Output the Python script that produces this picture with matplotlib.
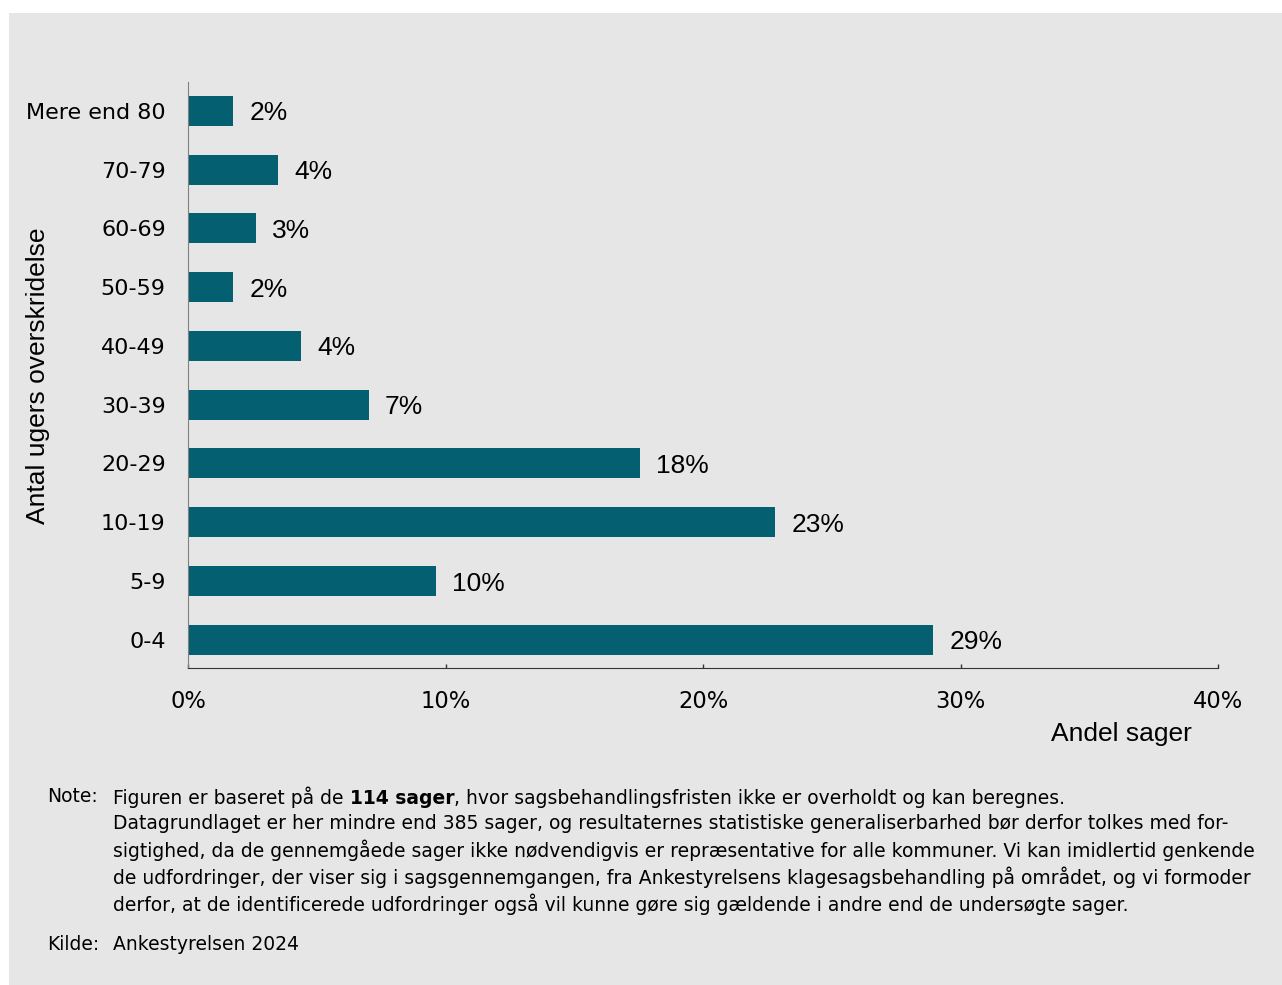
import matplotlib.pyplot as plt
from matplotlib.patches import Rectangle
from matplotlib.ticker import FuncFormatter

categories = ['0-4', '5-9', '10-19', '20-29', '30-39', '40-49', '50-59', '60-69', '70-79', 'Mere end 80']
counts = [33, 11, 26, 20, 8, 5, 2, 3, 4, 2]
total = 114
shares = [c / total * 100 for c in counts]
labels = ['29%', '10%', '23%', '18%', '7%', '4%', '2%', '3%', '4%', '2%']

note_lines = [
    'Datagrundlaget er her mindre end 385 sager, og resultaternes statistiske generaliserbarhed bør derfor tolkes med for-',
    'sigtighed, da de gennemgåede sager ikke nødvendigvis er repræsentative for alle kommuner. Vi kan imidlertid genkende',
    'de udfordringer, der viser sig i sagsgennemgangen, fra Ankestyrelsens klagesagsbehandling på området, og vi formoder',
    'derfor, at de identificerede udfordringer også vil kunne gøre sig gældende i andre end de undersøgte sager.',
]

bg = '#e6e6e6'
bar_color = '#045f70'
W, H = 1282, 985

fig = plt.figure(figsize=(W / 100, H / 100), dpi=100)
fig.patch.set_facecolor('white')
fig.patches.append(Rectangle((9 / W, 0), 1 - 9 / W, 1 - 13 / H, transform=fig.transFigure,
                             facecolor=bg, edgecolor='none', zorder=-10))

ax = fig.add_axes([188 / W, 1 - 668 / H, (1218 - 188) / W, (668 - 82) / H])
ax.set_facecolor(bg)
ax.barh(range(len(categories)), shares, height=0.51, color=bar_color)
for i, (v, lab) in enumerate(zip(shares, labels)):
    ax.annotate(lab, (v, i), xytext=(11.5, 0), textcoords='offset points',
                va='center_baseline', ha='left', fontsize=19, family='Liberation Sans')

ax.set_xlim(0, 40)
ax.set_ylim(-0.48, 9.49)
ax.set_xticks([0, 10, 20, 30, 40])
ax.xaxis.set_major_formatter(FuncFormatter(lambda x, p: f'{x:.0f}%'))
ax.set_yticks(range(len(categories)))
ax.set_yticklabels(categories)
ax.tick_params(axis='x', direction='in', length=3, width=1, pad=15.5, labelsize=16.3, color='#333333')
ax.tick_params(axis='y', length=0, pad=16, labelsize=16)
for s in ['top', 'right']:
    ax.spines[s].set_visible(False)
ax.spines['left'].set_color('#808080')
ax.spines['bottom'].set_color('#333333')

fig.text(1192 / W, 1 - 734 / H, 'Andel sager', ha='right', va='center', fontsize=19,
         family='Liberation Sans')
fig.text(38 / W, 1 - 376 / H, 'Antal ugers overskridelse', rotation=90, ha='center', va='center',
         fontsize=19, family='Liberation Sans')

# note
fs = 13.5
fig.text(47 / W, 1 - 797 / H, 'Note:', fontsize=fs, va='center')
t1 = fig.text(113 / W, 1 - 797 / H, 'Figuren er baseret på de ', fontsize=fs, va='center')
t2 = ax.annotate('114 sager', xy=(1, 0), xycoords=t1, va='bottom', ha='left', fontsize=fs,
                 fontweight='bold', annotation_clip=False)
ax.annotate(', hvor sagsbehandlingsfristen ikke er overholdt og kan beregnes.', xy=(1, 0),
            xycoords=t2, va='bottom', ha='left', fontsize=fs, annotation_clip=False)
for k, line in enumerate(note_lines):
    fig.text(113 / W, 1 - (797 + 26.75 * (k + 1)) / H, line, fontsize=fs, va='center')
fig.text(47 / W, 1 - 944 / H, 'Kilde:', fontsize=fs, va='center')
fig.text(113 / W, 1 - 944 / H, 'Ankestyrelsen 2024', fontsize=fs, va='center')

fig.savefig('out.png', dpi=100, facecolor='white')
